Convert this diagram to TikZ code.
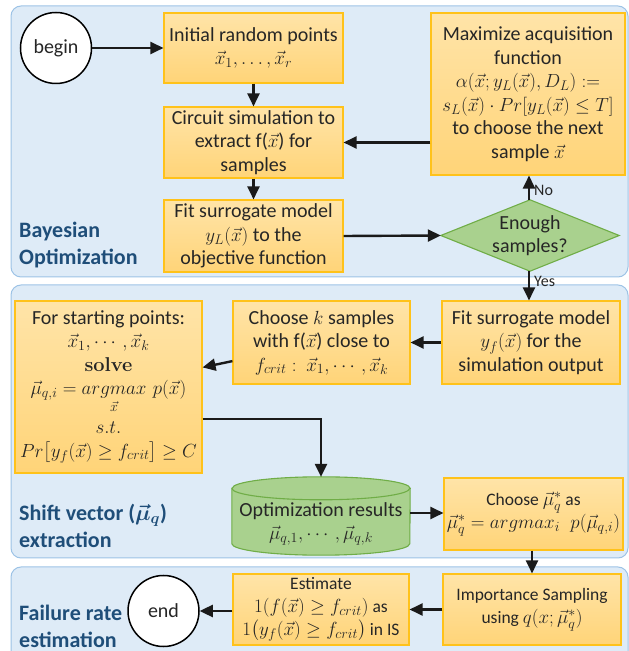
\RequirePackage{fix-cm}
\documentclass[tikz,border=0pt]{standalone}
\usepackage{amsmath}
\usepackage{fontspec}
\newfontfamily\cb{Carlito}
\usetikzlibrary{arrows.meta,calc}
\DeclareMathSizes{20}{19}{14}{11}
\DeclareMathSizes{17.5}{19}{14}{11}
\definecolor{panelfill}{HTML}{DEEBF7}
\definecolor{panelline}{HTML}{9DC3E6}
\definecolor{boxtop}{HTML}{FFE4A8}
\definecolor{boxbot}{HTML}{FFD478}
\definecolor{boxline}{HTML}{FFC21A}
\definecolor{greenfill}{HTML}{A9D18E}
\definecolor{greenline}{HTML}{70AD47}
\definecolor{txt}{HTML}{262626}
\definecolor{labc}{HTML}{1F4E79}
\definecolor{arrowc}{HTML}{1A1A1A}
\newcommand\bodyf{\cb\fontsize{20}{23.5}\selectfont}
\newcommand\smallf{\cb\fontsize{17.5}{23}\selectfont}
\newcommand\labf{\cb\bfseries\fontsize{22}{27}\selectfont}
\newcommand\yesf{\cb\fontsize{16}{18}\selectfont}
\tikzset{
 panel/.style={draw=panelline, fill=panelfill, line width=1pt, rounded corners=10pt},
 box/.style={draw=boxline, line width=1.1pt, top color=boxtop, bottom color=boxbot, align=center, inner sep=0pt, text=txt, font=\bodyf},
 term/.style={circle, draw=black, line width=1.5pt, fill=white, minimum size=71pt, inner sep=0pt, font=\bodyf, text=txt},
 arr/.style={line width=2.4pt, draw=arrowc, -{Triangle[length=13pt,width=12pt]}},
 greenshape/.style={draw=greenline, fill=greenfill, line width=1.1pt},
 plabel/.style={anchor=west, align=left, font=\labf, text=labc, inner sep=0pt},
 lbl/.style={font=\yesf, text=txt, inner sep=0pt, anchor=west},
}
\begin{document}
\begin{tikzpicture}[x=1pt,y=1pt]
\useasboundingbox (0,0) rectangle (629,651);
% panels
\draw[panel] (11,374) rectangle (628,645);
\draw[panel] (11,93) rectangle (628,366);
\draw[panel] (11,-12) rectangle (628,84);
\node[plabel] (lab1) at (19,406) {Bayesian\\Optimization};
\node[plabel] (lab2) at (19,125) {Shift vector ($\boldsymbol{\vec{\mu}_q}$)\\extraction};
\node[plabel] (lab3) at (19,25) {Failure rate\\estimation};
% Bayesian optimization
\node[term] (begin) at (56,603) {begin};
\node[box, minimum width=179pt, minimum height=70pt] (init) at (253.5,603) {Initial random points\\$\vec{x}_1,\dots,\vec{x}_r$};
\node[box, minimum width=179pt, minimum height=71pt] (circ) at (253.5,508.5) {Circuit simulation to\\extract f($\vec{x}$) for\\samples};
\node[box, minimum width=179pt, minimum height=72pt] (fitL) at (253.5,415) {Fit surrogate model\\$y_L(\vec{x})$ to the\\objective function};
\node[box, minimum width=194pt, minimum height=162pt] (maxacq) at (528,557) {Maximize acquisition\\function\\$\alpha(\vec{x};y_L(\vec{x}),D_L)\mathrel{:=}$\\$s_L(\vec{x})\cdot Pr[y_L(\vec{x})\le T]$\\to choose the next\\sample $\vec{x}$};
\node[minimum width=178pt, minimum height=71pt, inner sep=0pt] (dia) at (530,415.5) {};
\draw[greenshape] (dia.north) -- (dia.east) -- (dia.south) -- (dia.west) -- cycle;
\node[font=\bodyf, text=txt, align=center, inner sep=0pt] (diat) at (dia.center) {Enough\\samples?};
% Shift vector extraction
\node[box, minimum width=187pt, minimum height=172pt] (start) at (108.5,264) {For starting points:\\$\vec{x}_1,\cdots,\vec{x}_k$\\\textbf{\rmfamily solve}\\$\vec{\mu}_{q,i}=\mathop{argmax}\limits_{\vec{x}}\,p(\vec{x})$\\[8pt]$s.t.$\\$Pr\big[y_f(\vec{x})\ge f_{crit}\big]\ge C$};
\node[box, minimum width=177pt, minimum height=83pt] (choosek) at (321.5,308.5) {Choose $k$ samples\\with f($\vec{x}$) close to\\$f_{crit}:\ \vec{x}_1,\cdots,\vec{x}_k$};
\node[box, minimum width=178pt, minimum height=83pt] (fitf) at (531,308.5) {Fit surrogate model\\$y_f(\vec{x})$ for the\\simulation output};
\node[minimum width=178pt, minimum height=78pt, inner sep=0pt] (opt) at (321,135) {};
\draw[greenshape] ($(opt.north west)+(0,-11.5)$) -- ($(opt.south west)+(0,11.5)$)
  arc[start angle=180,end angle=360,x radius=89,y radius=11.5]
  -- ($(opt.north east)+(0,-11.5)$)
  arc[start angle=0,end angle=180,x radius=89,y radius=11.5] -- cycle;
\draw[draw=greenline, line width=1.1pt] ($(opt.north west)+(0,-11.5)$) arc[start angle=180,end angle=360,x radius=89,y radius=11.5];
\node[font=\bodyf, text=txt, align=center, inner sep=0pt] (optt) at (321,127) {Optimization results\\$\vec{\mu}_{q,1},\cdots,\vec{\mu}_{q,k}$};
\node[box, font=\smallf, minimum width=179pt, minimum height=72pt] (choosemu) at (533.5,137) {Choose $\vec{\mu}_q^*$ as\\$\vec{\mu}_q^*=argmax_i\;\;p(\vec{\mu}_{q,i})$};
% Failure rate estimation
\node[box, font=\smallf, minimum width=178pt, minimum height=71pt] (is) at (532,41.5) {Importance Sampling\\using $q(x;\vec{\mu}_q^*)$};
\node[box, font=\smallf, minimum width=176pt, minimum height=71pt] (est) at (321,41.5) {Estimate\\$1(f(\vec{x})\ge f_{crit})$ as\\$1\big(y_f(\vec{x})\ge f_{crit}\big)$ in IS};
\node[term] (end) at (163.5,40) {end};
% connectors
\draw[arr] (begin) -- (init);
\draw[arr] (init) -- (circ);
\draw[arr] (circ) -- (fitL);
\draw[arr] (maxacq.west |- circ.east) -- (circ.east);
\draw[arr] (fitL.east) -- (dia.west);
\draw[arr] ([xshift=-1pt]dia.north) -- ([xshift=-1pt]dia.north |- maxacq.south) node[lbl, pos=0.4, xshift=4pt] (no) {No};
\draw[arr] ([xshift=-1pt]dia.south) -- ([xshift=-1pt]dia.south |- fitf.north) node[lbl, pos=0.35, xshift=4pt] (yes) {Yes};
\draw[arr] (fitf) -- (choosek);
\draw[arr] (choosek) -- (start);
\draw[arr, rounded corners=0pt] ([yshift=-32pt]start.east) -| (opt.north);
\draw[arr] ([yshift=3pt]opt.east) -- ([yshift=3pt]opt.east -| choosemu.west);
\draw[arr] (choosemu.south -| is.north) -- (is.north);
\draw[arr] (is) -- (est);
\draw[arr] (est.west |- end.east) -- (end.east);
\end{tikzpicture}
\end{document}
